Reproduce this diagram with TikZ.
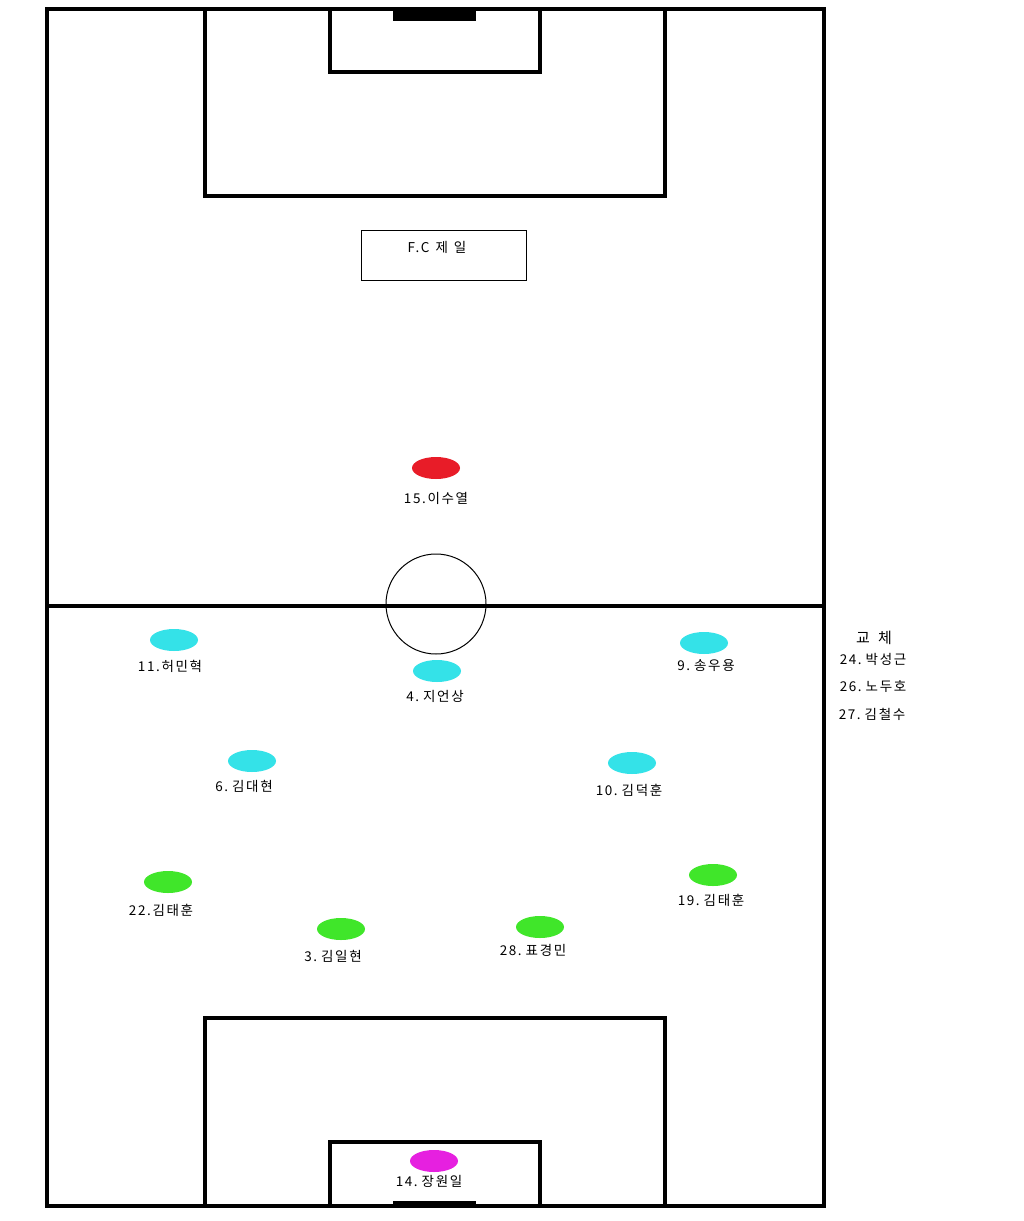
\documentclass[tikz,border=0pt]{standalone}
\usepackage{fontspec}
\usetikzlibrary{shapes.geometric}
\setmainfont{Noto Sans CJK KR}[LetterSpace=12]
\begin{document}
\begin{tikzpicture}[x=1pt,y=-1pt,
  thick line/.style={line width=4pt,draw=black},
  player/.style={ellipse,minimum width=48pt,minimum height=22pt,inner sep=0pt,draw=none},
  lbl/.style={font=\fontsize{13.5}{15}\selectfont,inner sep=0pt,text=black},
  every node/.style={anchor=center}]
\useasboundingbox (0,0) rectangle (1024,1221);
\fill[white] (0,0) rectangle (1024,1221);
% field
\draw[thick line] (47,9) rectangle (824,1206);
\draw[thick line] (47,606) -- (824,606);
\draw[thick line] (205,9) rectangle (665,196);
\draw[thick line] (330,9) rectangle (540,72);
\fill[black] (393,9) rectangle (476,21);
\draw[thick line] (205,1206) rectangle (665,1018);
\draw[thick line] (330,1206) rectangle (540,1142);
\fill[black] (393,1201) rectangle (476,1206);
\draw[line width=1pt] (436,604) circle (50);
% title box
\node[draw=black,line width=0.8pt,minimum width=165pt,minimum height=50pt,inner sep=0pt] (title) at (443.5,255) {};
\node[lbl] (titletext) at (437,247) {F.C\hspace{6pt}제\hspace{6pt}일};
% players
\node[player,fill={rgb,255:red,232;green,28;blue,40}] (p15) at (436,468) {};
\node[lbl] (t15) at (436,498) {15.이수열};
\node[player,fill={rgb,255:red,52;green,226;blue,232}] (p11) at (174,640) {};
\node[lbl] (t11) at (170,666) {11.허민혁};
\node[player,fill={rgb,255:red,52;green,226;blue,232}] (p4) at (437,671) {};
\node[lbl] (t4) at (435,696) {4.\hspace{4pt}지언상};
\node[player,fill={rgb,255:red,52;green,226;blue,232}] (p9) at (704,643) {};
\node[lbl] (t9) at (706,666) {9.\hspace{4pt}송우용};
\node[player,fill={rgb,255:red,52;green,226;blue,232}] (p6) at (252,761) {};
\node[lbl] (t6) at (244,786) {6.\hspace{4pt}김대현};
\node[player,fill={rgb,255:red,52;green,226;blue,232}] (p10) at (632,763) {};
\node[lbl] (t10) at (629,790) {10.\hspace{4pt}김덕훈};
\node[player,fill={rgb,255:red,64;green,230;blue,42}] (p22) at (168,882) {};
\node[lbl] (t22) at (161,910) {22.김태훈};
\node[player,fill={rgb,255:red,64;green,230;blue,42}] (p19) at (713,875) {};
\node[lbl] (t19) at (711,900) {19.\hspace{4pt}김태훈};
\node[player,fill={rgb,255:red,64;green,230;blue,42}] (p3) at (341,929) {};
\node[lbl] (t3) at (333,956) {3.\hspace{4pt}김일현};
\node[player,fill={rgb,255:red,64;green,230;blue,42}] (p28) at (540,927) {};
\node[lbl] (t28) at (533,950) {28.\hspace{4pt}표경민};
\node[player,fill={rgb,255:red,230;green,32;blue,224}] (p14) at (434,1161) {};
\node[lbl] (t14) at (429,1181) {14.\hspace{4pt}장원일};
% substitutes
\node[lbl,font=\fontsize{15}{17}\selectfont] (sub) at (874,638) {교\hspace{8pt}체};
\node[lbl] (s24) at (873,659) {24.\hspace{4pt}박성근};
\node[lbl] (s26) at (873,687) {26.\hspace{4pt}노두호};
\node[lbl] (s27) at (872,714) {27.\hspace{4pt}김철수};
\end{tikzpicture}
\end{document}
